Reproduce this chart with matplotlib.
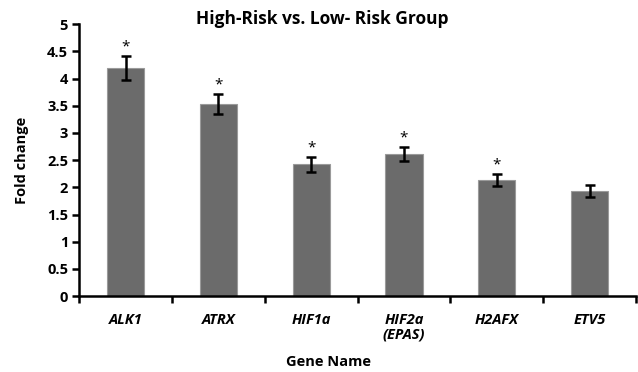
import numpy as np
import matplotlib.pyplot as plt

# data
genes = ["ALK1", "ATRX", "HIF1a", "HIF2a\n(EPAS)", "H2AFX", "ETV5"]
fold = [4.19, 3.53, 2.42, 2.61, 2.13, 1.93]
err = [0.22, 0.18, 0.13, 0.13, 0.11, 0.11]
signif = [True, True, True, True, True, False]

plt.rcParams['font.family'] = ['Open Sans', 'DejaVu Sans']
plt.rcParams['font.weight'] = 'bold'

fig = plt.figure(figsize=(6.38, 3.72), dpi=100)
ax = fig.add_axes([0.124, 0.204, 0.873, 0.731])

x = np.arange(len(genes))
ax.bar(x, fold, width=0.4, color="#6b6b6b", edgecolor="#9a9a9a", linewidth=0.8, zorder=2)
ax.errorbar(x, fold, yerr=err, fmt="none", ecolor="black", elinewidth=1.8, capsize=3.5, capthick=1.8, zorder=3)

#asterisks above the significant bars
for i in range(len(genes)):
    if signif[i]:
        ax.text(x[i], fold[i] + err[i] + 0.17, "*", ha="center", va="center", fontsize=11, fontweight="normal")

ax.set_ylim(0, 5)
ax.set_yticks(np.arange(0, 5.01, 0.5))
ax.set_yticklabels(["0", "0.5", "1", "1.5", "2", "2.5", "3", "3.5", "4", "4.5", "5"], fontsize=10.5)
ax.set_xlim(-0.5, len(genes) - 0.5)
ax.set_xticks(x)
ax.set_xticklabels(genes, fontsize=10.5, style="italic", fontweight="bold", linespacing=1.1)
ax.set_xticks(np.arange(-0.5, len(genes)), minor=True)
ax.tick_params(axis="x", which="major", length=0, pad=12)
ax.tick_params(axis="x", which="minor", length=5, width=1.8, direction="out")
ax.tick_params(axis="y", length=5, width=1.8, direction="out", pad=3)

for s in ["top", "right"]:
    ax.spines[s].set_visible(False)
for s in ["left", "bottom"]:
    ax.spines[s].set_linewidth(1.8)

fig.text(0.035, 0.57, "Fold change", ha="center", va="center", rotation=90, fontsize=10.5, fontweight="bold")
fig.text(0.515, 0.028, "Gene Name", ha="center", va="center", fontsize=10.5, fontweight="bold")
fig.text(0.505, 0.95, "High-Risk vs. Low- Risk Group", ha="center", va="center", fontsize=12.5, fontweight="bold")

plt.savefig("out.png", dpi=100)
